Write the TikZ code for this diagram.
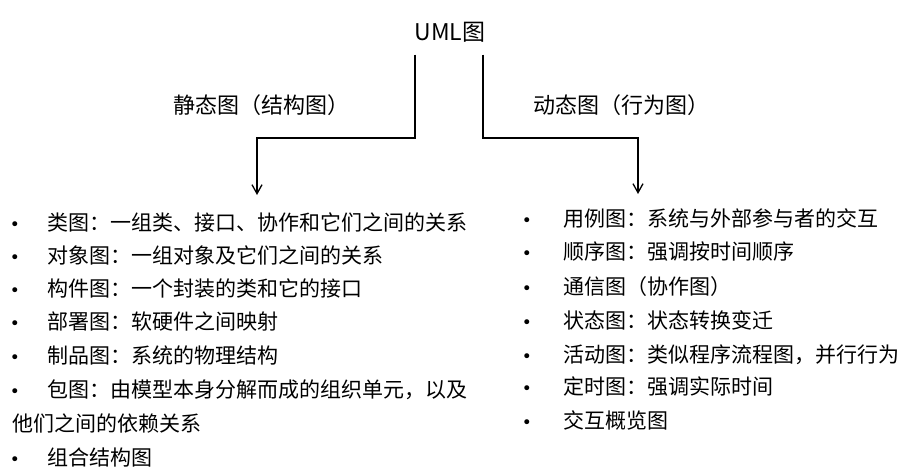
\documentclass[tikz,border=0pt]{standalone}
\usepackage{fontspec}
\setmainfont{Noto Sans CJK SC}
\newfontfamily\dotfont{DejaVu Sans}
\usetikzlibrary{arrows.meta}
\tikzset{every picture/.style={line width=1.3pt}}
\tikzset{
  item/.style={anchor=west, inner sep=0pt, font=\fontsize{21}{25}\selectfont},
  bullet/.style={anchor=base, inner sep=0pt, font=\dotfont\fontsize{17}{20}\selectfont},
  kind/.style={inner sep=0pt, font=\fontsize{22}{26}\selectfont},
  conn/.style={-{Straight Barb[length=9pt,width=10pt]}}
}

\begin{document}
\begin{tikzpicture}[x=1pt, y=-1pt]
    \useasboundingbox (0,0) rectangle (910,474);
    % title and the two kinds
    \node[inner sep=0pt, font=\fontsize{23}{27}\selectfont] (uml) at (450,32) {UML图};
    \node[kind] (static) at (261,105) {静态图（结构图）};
    \node[kind] (dynamic) at (621,105) {动态图（行为图）};

    % bends and arrow ends
    \coordinate (sbend) at (257,138);
    \coordinate (send) at (257,195);
    \coordinate (dbend) at (638,138);
    \coordinate (dend) at (638,194);

    % Connections
    \draw[conn] ([xshift=1pt,yshift=-12pt]uml.south west) |- (sbend) -- (send);
    \draw[conn] ([xshift=-3pt,yshift=-12pt]uml.south east) |- (dbend) -- (dend);

    % static diagrams
    \node[item] (s1) at (47,222) {类图：一组类、接口、协作和它们之间的关系};
    \node[item] (s2) at (47,255) {对象图：一组对象及它们之间的关系};
    \node[item] (s3) at (47,288) {构件图：一个封装的类和它的接口};
    \node[item] (s4) at (47,321) {部署图：软硬件之间映射};
    \node[item] (s5) at (47,355) {制品图：系统的物理结构};
    \node[item] (s6) at (47,390) {包图：由模型本身分解而成的组织单元，以及};
    \node[item] (s6b) at (12,423) {他们之间的依赖关系};
    \node[item] (s7) at (47,457) {组合结构图};
    \node[bullet] (sb1) at (s1.base -| 15,0) {•};
    \node[bullet] (sb2) at (s2.base -| 15,0) {•};
    \node[bullet] (sb3) at (s3.base -| 15,0) {•};
    \node[bullet] (sb4) at (s4.base -| 15,0) {•};
    \node[bullet] (sb5) at (s5.base -| 15,0) {•};
    \node[bullet] (sb6) at (s6.base -| 15,0) {•};
    \node[bullet] (sb7) at (s7.base -| 15,0) {•};

    % dynamic diagrams
    \node[item] (d1) at (563,218) {用例图：系统与外部参与者的交互};
    \node[item] (d2) at (563,252) {顺序图：强调按时间顺序};
    \node[item] (d3) at (563,287) {通信图（协作图）};
    \node[item] (d4) at (563,320) {状态图：状态转换变迁};
    \node[item] (d5) at (563,355) {活动图：类似程序流程图，并行行为};
    \node[item] (d6) at (563,387) {定时图：强调实际时间};
    \node[item] (d7) at (563,420) {交互概览图};
    \node[bullet] (db1) at (d1.base -| 527,0) {•};
    \node[bullet] (db2) at (d2.base -| 527,0) {•};
    \node[bullet] (db3) at (d3.base -| 527,0) {•};
    \node[bullet] (db4) at (d4.base -| 527,0) {•};
    \node[bullet] (db5) at (d5.base -| 527,0) {•};
    \node[bullet] (db6) at (d6.base -| 527,0) {•};
    \node[bullet] (db7) at (d7.base -| 527,0) {•};
\end{tikzpicture}
\end{document}
